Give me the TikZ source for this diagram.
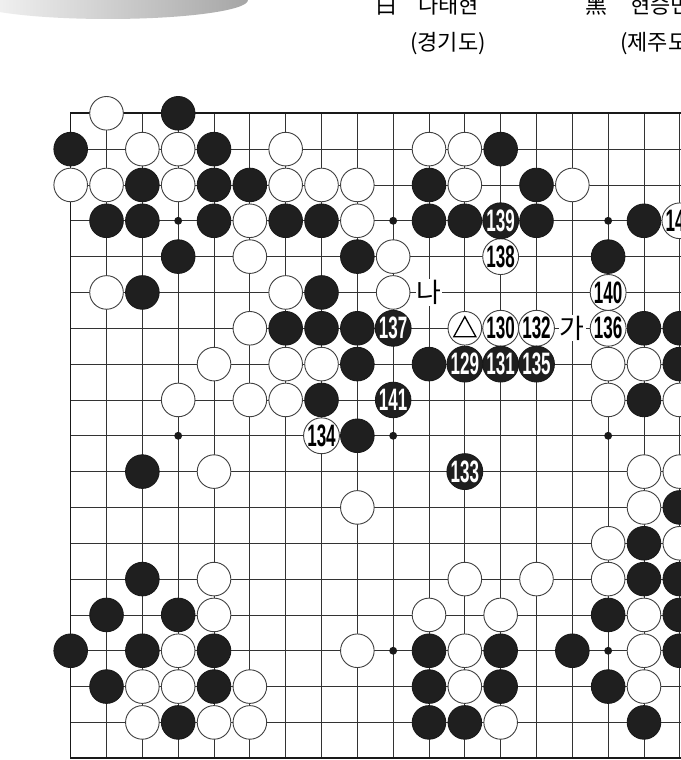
\documentclass[tikz,border=0pt]{standalone}
\usepackage{fontspec}
\setmainfont{Liberation Sans}
\newfontfamily\kfont{Noto Sans CJK KR}
\newcommand\mvnum[1]{\scalebox{0.55}[1]{\fontsize{31}{31}\selectfont\bfseries #1}}

\begin{document}
\begin{tikzpicture}[x=35.83pt,y=-35.83pt]
\tikzset{
  gridline/.style={draw=black!80,line width=0.75pt},
  boardedge/.style={draw=black!90,line width=1.6pt,line cap=rect},
  stone/.style={circle,minimum size=33.6pt,inner sep=0pt,line width=0.9pt},
  blackstone/.style={stone,draw=black!90,fill=black!88,text=white},
  whitestone/.style={stone,draw=black!75,fill=white,text=black},
  starpoint/.style={fill=black!90},
  headtext/.style={anchor=base west,inner sep=0pt,font=\kfont\fontsize{22}{22}\selectfont},
  marktext/.style={fill=white,inner sep=1pt,font=\kfont\fontsize{27}{27}\selectfont},
  triline/.style={draw=black,line width=1.3pt,line join=miter}
}
\useasboundingbox (-1.973,-3.162) rectangle (17.033,18.049);
\clip (-1.973,-3.162) rectangle (17.033,18.049);
\fill[white] (-1.973,-3.162) rectangle (17.033,18.049);
% title strip and players
\shade[left color=gray!5,right color=gray!70] (1.041,-3.162) ellipse [x radius=3.907,y radius=0.530];
\node[headtext] (n_whitehan) at (8.493,-2.78) {白};
\node[headtext] (n_whitename) at (9.693,-2.78) {나태현};
\node[headtext] (n_whiteregion) at (9.47,-1.74) {(경기도)};
\node[headtext] (n_blackhan) at (14.353,-2.78) {黑};
\node[headtext] (n_blackname) at (15.61,-2.78) {현승민};
\node[headtext] (n_blackregion) at (15.33,-1.74) {(제주도)};
% board
\foreach \i in {0,...,18} {
  \draw[gridline] (\i,0) -- (\i,18);
  \draw[gridline] (0,\i) -- (18,\i);
}
\draw[boardedge] (18,0) -- (0,0) -- (0,18) -- (18,18);
\fill[starpoint] (3,3) circle[radius=0.11];
\fill[starpoint] (9,3) circle[radius=0.11];
\fill[starpoint] (15,3) circle[radius=0.11];
\fill[starpoint] (3,9) circle[radius=0.11];
\fill[starpoint] (9,9) circle[radius=0.11];
\fill[starpoint] (15,9) circle[radius=0.11];
\fill[starpoint] (9,15) circle[radius=0.11];
\fill[starpoint] (15,15) circle[radius=0.11];
% black stones
\node[blackstone] (n_b3_0) at (3,0) {};
\node[blackstone] (n_b0_1) at (0,1) {};
\node[blackstone] (n_b4_1) at (4,1) {};
\node[blackstone] (n_b12_1) at (12,1) {};
\node[blackstone] (n_b2_2) at (2,2) {};
\node[blackstone] (n_b4_2) at (4,2) {};
\node[blackstone] (n_b5_2) at (5,2) {};
\node[blackstone] (n_b10_2) at (10,2) {};
\node[blackstone] (n_b13_2) at (13,2) {};
\node[blackstone] (n_b1_3) at (1,3) {};
\node[blackstone] (n_b2_3) at (2,3) {};
\node[blackstone] (n_b4_3) at (4,3) {};
\node[blackstone] (n_b6_3) at (6,3) {};
\node[blackstone] (n_b7_3) at (7,3) {};
\node[blackstone] (n_b10_3) at (10,3) {};
\node[blackstone] (n_b11_3) at (11,3) {};
\node[blackstone] (n_b13_3) at (13,3) {};
\node[blackstone] (n_b16_3) at (16,3) {};
\node[blackstone] (n_b3_4) at (3,4) {};
\node[blackstone] (n_b8_4) at (8,4) {};
\node[blackstone] (n_b15_4) at (15,4) {};
\node[blackstone] (n_b2_5) at (2,5) {};
\node[blackstone] (n_b7_5) at (7,5) {};
\node[blackstone] (n_b6_6) at (6,6) {};
\node[blackstone] (n_b7_6) at (7,6) {};
\node[blackstone] (n_b8_6) at (8,6) {};
\node[blackstone] (n_b16_6) at (16,6) {};
\node[blackstone] (n_b17_6) at (17,6) {};
\node[blackstone] (n_b8_7) at (8,7) {};
\node[blackstone] (n_b10_7) at (10,7) {};
\node[blackstone] (n_b17_7) at (17,7) {};
\node[blackstone] (n_b7_8) at (7,8) {};
\node[blackstone] (n_b16_8) at (16,8) {};
\node[blackstone] (n_b8_9) at (8,9) {};
\node[blackstone] (n_b2_10) at (2,10) {};
\node[blackstone] (n_b17_11) at (17,11) {};
\node[blackstone] (n_b16_12) at (16,12) {};
\node[blackstone] (n_b2_13) at (2,13) {};
\node[blackstone] (n_b16_13) at (16,13) {};
\node[blackstone] (n_b17_13) at (17,13) {};
\node[blackstone] (n_b1_14) at (1,14) {};
\node[blackstone] (n_b3_14) at (3,14) {};
\node[blackstone] (n_b15_14) at (15,14) {};
\node[blackstone] (n_b17_14) at (17,14) {};
\node[blackstone] (n_b0_15) at (0,15) {};
\node[blackstone] (n_b2_15) at (2,15) {};
\node[blackstone] (n_b4_15) at (4,15) {};
\node[blackstone] (n_b10_15) at (10,15) {};
\node[blackstone] (n_b12_15) at (12,15) {};
\node[blackstone] (n_b14_15) at (14,15) {};
\node[blackstone] (n_b17_15) at (17,15) {};
\node[blackstone] (n_b1_16) at (1,16) {};
\node[blackstone] (n_b4_16) at (4,16) {};
\node[blackstone] (n_b10_16) at (10,16) {};
\node[blackstone] (n_b12_16) at (12,16) {};
\node[blackstone] (n_b15_16) at (15,16) {};
\node[blackstone] (n_b3_17) at (3,17) {};
\node[blackstone] (n_b10_17) at (10,17) {};
\node[blackstone] (n_b11_17) at (11,17) {};
\node[blackstone] (n_b16_17) at (16,17) {};
% white stones
\node[whitestone] (n_w1_0) at (1,0) {};
\node[whitestone] (n_w2_1) at (2,1) {};
\node[whitestone] (n_w3_1) at (3,1) {};
\node[whitestone] (n_w6_1) at (6,1) {};
\node[whitestone] (n_w10_1) at (10,1) {};
\node[whitestone] (n_w11_1) at (11,1) {};
\node[whitestone] (n_w0_2) at (0,2) {};
\node[whitestone] (n_w1_2) at (1,2) {};
\node[whitestone] (n_w3_2) at (3,2) {};
\node[whitestone] (n_w6_2) at (6,2) {};
\node[whitestone] (n_w7_2) at (7,2) {};
\node[whitestone] (n_w8_2) at (8,2) {};
\node[whitestone] (n_w11_2) at (11,2) {};
\node[whitestone] (n_w14_2) at (14,2) {};
\node[whitestone] (n_w5_3) at (5,3) {};
\node[whitestone] (n_w8_3) at (8,3) {};
\node[whitestone] (n_w5_4) at (5,4) {};
\node[whitestone] (n_w9_4) at (9,4) {};
\node[whitestone] (n_w1_5) at (1,5) {};
\node[whitestone] (n_w6_5) at (6,5) {};
\node[whitestone] (n_w9_5) at (9,5) {};
\node[whitestone] (n_w5_6) at (5,6) {};
\node[whitestone] (n_w4_7) at (4,7) {};
\node[whitestone] (n_w6_7) at (6,7) {};
\node[whitestone] (n_w7_7) at (7,7) {};
\node[whitestone] (n_w15_7) at (15,7) {};
\node[whitestone] (n_w16_7) at (16,7) {};
\node[whitestone] (n_w3_8) at (3,8) {};
\node[whitestone] (n_w5_8) at (5,8) {};
\node[whitestone] (n_w6_8) at (6,8) {};
\node[whitestone] (n_w15_8) at (15,8) {};
\node[whitestone] (n_w17_8) at (17,8) {};
\node[whitestone] (n_w4_10) at (4,10) {};
\node[whitestone] (n_w16_10) at (16,10) {};
\node[whitestone] (n_w17_10) at (17,10) {};
\node[whitestone] (n_w8_11) at (8,11) {};
\node[whitestone] (n_w16_11) at (16,11) {};
\node[whitestone] (n_w15_12) at (15,12) {};
\node[whitestone] (n_w17_12) at (17,12) {};
\node[whitestone] (n_w4_13) at (4,13) {};
\node[whitestone] (n_w11_13) at (11,13) {};
\node[whitestone] (n_w13_13) at (13,13) {};
\node[whitestone] (n_w15_13) at (15,13) {};
\node[whitestone] (n_w4_14) at (4,14) {};
\node[whitestone] (n_w10_14) at (10,14) {};
\node[whitestone] (n_w12_14) at (12,14) {};
\node[whitestone] (n_w16_14) at (16,14) {};
\node[whitestone] (n_w3_15) at (3,15) {};
\node[whitestone] (n_w8_15) at (8,15) {};
\node[whitestone] (n_w11_15) at (11,15) {};
\node[whitestone] (n_w16_15) at (16,15) {};
\node[whitestone] (n_w2_16) at (2,16) {};
\node[whitestone] (n_w3_16) at (3,16) {};
\node[whitestone] (n_w5_16) at (5,16) {};
\node[whitestone] (n_w11_16) at (11,16) {};
\node[whitestone] (n_w16_16) at (16,16) {};
\node[whitestone] (n_w2_17) at (2,17) {};
\node[whitestone] (n_w4_17) at (4,17) {};
\node[whitestone] (n_w5_17) at (5,17) {};
\node[whitestone] (n_w12_17) at (12,17) {};
% numbered moves
\node[blackstone] (n_m129) at (11,7) {\mvnum{129}};
\node[whitestone] (n_m130) at (12,6) {\mvnum{130}};
\node[blackstone] (n_m131) at (12,7) {\mvnum{131}};
\node[whitestone] (n_m132) at (13,6) {\mvnum{132}};
\node[blackstone] (n_m133) at (11,10) {\mvnum{133}};
\node[whitestone] (n_m134) at (7,9) {\mvnum{134}};
\node[blackstone] (n_m135) at (13,7) {\mvnum{135}};
\node[whitestone] (n_m136) at (15,6) {\mvnum{136}};
\node[blackstone] (n_m137) at (9,6) {\mvnum{137}};
\node[whitestone] (n_m138) at (12,4) {\mvnum{138}};
\node[blackstone] (n_m139) at (12,3) {\mvnum{139}};
\node[whitestone] (n_m140) at (15,5) {\mvnum{140}};
\node[blackstone] (n_m141) at (9,8) {\mvnum{141}};
\node[whitestone] (n_m142) at (17,3) {\mvnum{142}};
% marked stone and points
\node[whitestone] (n_tri) at (11,6) {};
\draw[triline] (11,5.676) -- (11.307,6.234) -- (10.693,6.234) -- cycle;
\node[marktext] (n_na) at (10,5) {나};
\node[marktext] (n_ga) at (14,6) {가};
\end{tikzpicture}
\end{document}
